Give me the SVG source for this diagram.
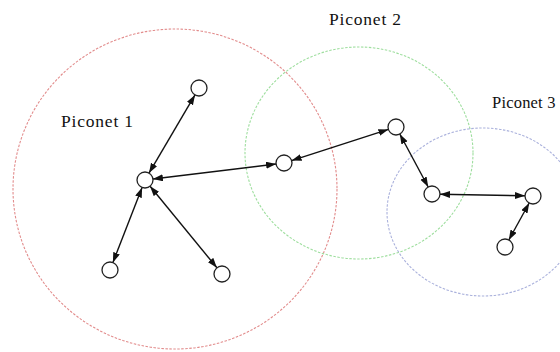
<svg xmlns="http://www.w3.org/2000/svg" width="560" height="352" viewBox="0 0 560 352">
<style>
.net{fill:none;stroke-width:1.1;stroke-dasharray:2.5 1.5}
.node{fill:#fff;stroke:#222;stroke-width:1.3}
.lbl{font-family:"Liberation Serif",serif;font-size:17.5px;letter-spacing:0.8px;fill:#111}
.link{stroke:#111;stroke-width:1.4;fill:none;marker-start:url(#ah);marker-end:url(#ah)}
</style>
<defs>
<marker id="ah" markerUnits="userSpaceOnUse" markerWidth="11" markerHeight="8" refX="10" refY="3.5" orient="auto-start-reverse" viewBox="0 0 11 8">
<path d="M0,0 L10,3.5 L0,7 z" fill="#111"/>
</marker>
</defs>
<rect width="560" height="352" fill="#fff"/>
<g id="piconet1"><ellipse class="net" cx="175" cy="189" rx="162" ry="160" stroke="#e28c8c"/><text class="lbl" x="61" y="127">Piconet 1</text></g>
<g id="piconet2"><ellipse class="net" cx="359" cy="153" rx="114" ry="106" stroke="#9ede9e"/><text class="lbl" x="329" y="25">Piconet 2</text></g>
<g id="piconet3"><ellipse class="net" cx="483" cy="212" rx="96" ry="84" stroke="#aab1dc"/><text class="lbl" x="492" y="108" style="font-size:16.5px;letter-spacing:0.2px">Piconet 3</text></g>
<g id="connectors">
<line class="link" x1="149.0" y1="173.1" x2="195.0" y2="94.9"/>
<line class="link" x1="142.1" y1="187.5" x2="112.9" y2="262.5"/>
<line class="link" x1="150.1" y1="186.2" x2="216.9" y2="267.8"/>
<line class="link" x1="152.9" y1="179.0" x2="276.1" y2="164.0"/>
<line class="link" x1="291.6" y1="160.6" x2="388.4" y2="129.4"/>
<line class="link" x1="399.8" y1="134.0" x2="428.2" y2="187.0"/>
<line class="link" x1="440" y1="194.2" x2="525" y2="195.8"/>
<line class="link" x1="529.2" y1="203.0" x2="508.8" y2="240.0"/>
</g>
<g id="n-top"><circle class="node" cx="199" cy="88" r="8"/></g>
<g id="n-hub"><circle class="node" cx="145" cy="180" r="8"/></g>
<g id="n-bl"><circle class="node" cx="110" cy="270" r="8"/></g>
<g id="n-br"><circle class="node" cx="222" cy="274" r="8"/></g>
<g id="n-mid"><circle class="node" cx="284" cy="163" r="8"/></g>
<g id="n-g"><circle class="node" cx="396" cy="127" r="8"/></g>
<g id="n-b1"><circle class="node" cx="432" cy="194" r="8"/></g>
<g id="n-b2"><circle class="node" cx="533" cy="196" r="8"/></g>
<g id="n-b3"><circle class="node" cx="505" cy="247" r="8"/></g>
</svg>
